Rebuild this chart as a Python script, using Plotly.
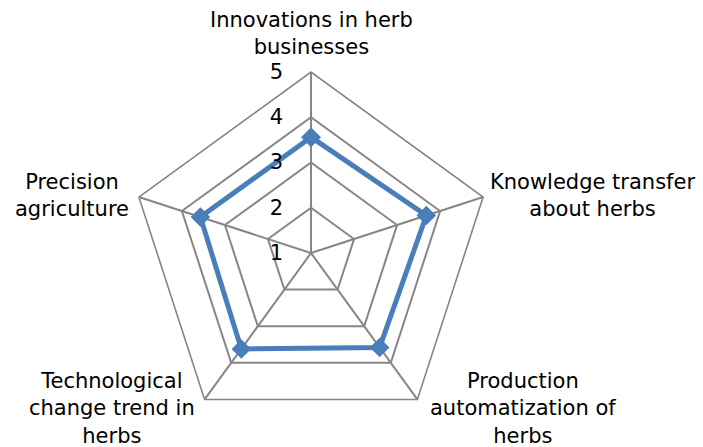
import plotly.graph_objects as go

# categories and scores
categories = [
    "Innovations in herb businesses",
    "Knowledge transfer about herbs",
    "Production automatization of herbs",
    "Technological change trend in herbs",
    "Precision agriculture",
]
label_text = [
    "Innovations in herb<br>businesses",
    "Knowledge transfer<br>about herbs",
    "Production<br>automatization of<br>herbs",
    "Technological<br>change trend in<br>herbs",
    "Precision<br>agriculture",
]
scores = [3.56, 3.68, 3.58, 3.62, 3.57]
radial_ticks = [1, 2, 3, 4, 5]

blue = "#4a7ebb"
grid = "#868686"

fig = go.Figure()
fig.add_trace(go.Scatterpolar(
    r=scores + scores[:1],
    theta=categories + categories[:1],
    mode="lines+markers",
    line=dict(color=blue, width=5),
    marker=dict(symbol="diamond", size=15, color=blue),
    showlegend=False,
))

# category label positions (pixel centres from the reference)
label_pos = [(311, 33), (592, 196), (523, 408), (112, 408), (72, 196)]
for txt, (px, py) in zip(label_text, label_pos):
    fig.add_annotation(
        text=txt, x=px/703, y=1 - py/447, xref="paper", yref="paper",
        xanchor="center", yanchor="middle", showarrow=False, align="center",
        font=dict(size=21),
    )

fig.update_layout(
    width=703,
    height=447,
    paper_bgcolor="white",
    margin=dict(l=0, r=0, t=0, b=0),
    font=dict(family="DejaVu Sans", size=21, color="black"),
    polar=dict(
        domain=dict(x=[130/703, 492/703], y=[1 - 434/447, 1 - 72/447]),
        bgcolor="white",
        gridshape="linear",
        radialaxis=dict(
            range=[1, 5],
            tickvals=radial_ticks,
            angle=90,
            tickangle=90,
            side="counterclockwise",
            showline=False,
            gridcolor=grid,
            gridwidth=1.6,
            ticks="outside",
            ticklen=20,
            tickcolor="rgba(0,0,0,0)",
            tickfont=dict(size=21),
        ),
        angularaxis=dict(
            rotation=90,
            direction="clockwise",
            showline=True,
            linecolor=grid,
            linewidth=1.6,
            gridcolor=grid,
            gridwidth=1.6,
            ticks="",
            showticklabels=False,
        ),
    ),
)

fig.write_html("out.html", config={"displayModeBar": False},
               post_script="document.body.style.margin='0';")
